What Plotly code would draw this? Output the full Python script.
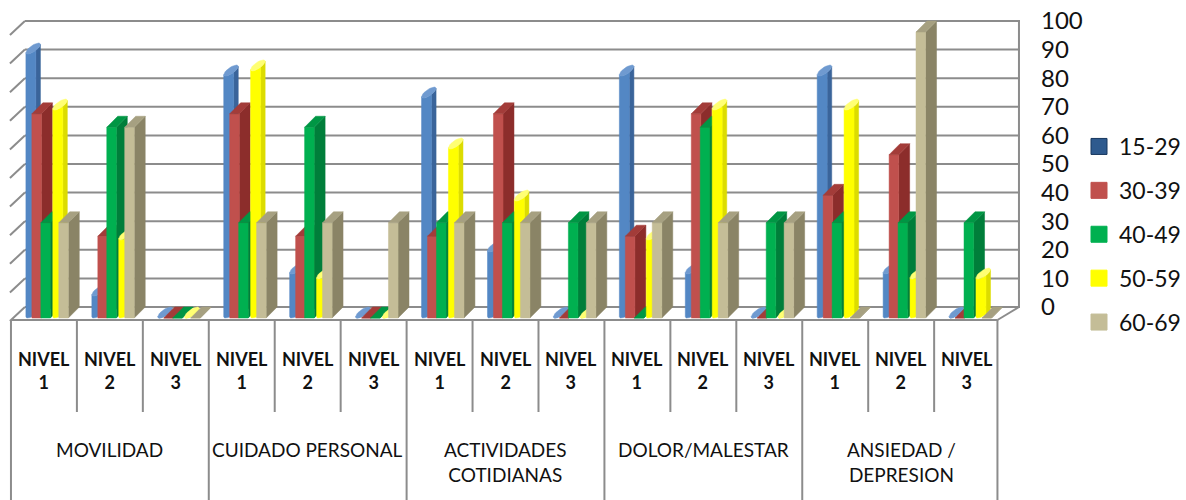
import math
import plotly.graph_objects as go

# ---- data -------------------------------------------------------------
dimensions = ["MOVILIDAD", "CUIDADO PERSONAL", "ACTIVIDADES<br>COTIDIANAS",
              "DOLOR/MALESTAR", "ANSIEDAD /<br>DEPRESION"]
levels = ["NIVEL<br>1", "NIVEL<br>2", "NIVEL<br>3"]
age_groups = ["15-29", "30-39", "40-49", "50-59", "60-69"]

# percentage of each age group per level, dimension by dimension (levels 1-3)
pct_15_29 = [92.3, 7.7, 0, 84.6, 15.4, 0, 76.9, 23.1, 0, 84.6, 15.4, 0, 84.6, 15.4, 0]
pct_30_39 = [71.4, 28.6, 0, 71.4, 28.6, 0, 28.6, 71.4, 0, 28.6, 71.4, 0, 42.9, 57.1, 0]
pct_40_49 = [33.3, 66.7, 0, 33.3, 66.7, 0, 33.3, 33.3, 33.3, 0, 66.7, 33.3, 33.3, 33.3, 33.3]
pct_50_59 = [72.7, 27.3, 0, 86.4, 13.6, 0, 59.1, 40.9, 0, 27.3, 72.7, 0, 72.7, 13.6, 13.6]
pct_60_69 = [33.3, 66.7, 0, 33.3, 33.3, 33.3, 33.3, 33.3, 33.3, 33.3, 33.3, 33.3, 0, 100, 0]

y_ticks = [0, 10, 20, 30, 40, 50, 60, 70, 80, 90, 100]

series_values = [pct_15_29, pct_30_39, pct_40_49, pct_50_59, pct_60_69]

# ---- styling ----------------------------------------------------------
# (front, side, top) shades for each age group
shades = [
    ("#5387C4", "#3A649A", "#6F9AD0"),
    ("#C0504D", "#8C2D2B", "#A33C39"),
    ("#00B050", "#007E3A", "#009644"),
    ("#FFFF00", "#DCDC00", "#FFFF73"),
    ("#C4BD97", "#8A8466", "#A6A081"),
]
cylinder = [True, False, False, True, False]
legend_marker = ["#2E5A8E", "#C0504D", "#00B050", "#FFFF00", "#C4BD97"]
legend_edge = ["#17375E", "#C0504D", "#00B050", "#FFFF00", "#C4BD97"]
GRID = "#8C8C8C"
FONT = "Lato"

W, H = 1186, 500
PLOT_W = 1024                      # plot area width in px (left margin 0)
CAT_PX, VAL_PX = 66.2, 2.86        # px per category / per percentage point
PX_X, PX_Y = 1 / CAT_PX, 1 / VAL_PX
X0_PX, Y0_PX = 11, 318             # px position of category 0 / value 0

x_range = [-X0_PX * PX_X, (PLOT_W - X0_PX) * PX_X]
y_range = [-(H - Y0_PX) * PX_Y, Y0_PX * PX_Y]

BAR_OFF, BAR_PITCH, BAR_W = 12 * PX_X, 9 * PX_X, 9.6 * PX_X
DX, DY = 11 * PX_X, 11 * PX_Y      # bar depth projection
WALL_X, WALL_Y = 14 * PX_X, 11 * PX_Y

n_cat = len(dimensions) * len(levels)
cat_idx = list(range(n_cat))

fig = go.Figure()


def add_poly(xs, ys, pts):
    for px_, py_ in pts:
        xs.append(px_)
        ys.append(py_)
    xs.append(pts[0][0]); ys.append(pts[0][1])
    xs.append(None); ys.append(None)


def ellipse_pt(cx, cy, t):
    return (cx + math.cos(t) * BAR_W / 2 + math.sin(t) * DX / 2,
            cy + math.sin(t) * DY / 2)


def arc(cx, cy, t0, t1, n=14):
    return [ellipse_pt(cx, cy, t0 + (t1 - t0) * k / n) for k in range(n + 1)]


# ---- pseudo 3D columns / cylinders ------------------------------------
t_left = math.atan2(-DX / 2, -BAR_W / 2)
t_right = t_left + math.pi
t_mid = t_left + 0.62 * math.pi

for s, vals in enumerate(series_values):
    faces = {"side": ([], []), "front": ([], []), "top": ([], [])}
    for i, v in zip(cat_idx, vals):
        x0 = i + BAR_OFF + s * BAR_PITCH
        x1 = x0 + BAR_W
        if cylinder[s]:
            cx = x0 + BAR_W / 2 + DX / 2
            lo_c, hi_c = DY / 2, v + DY / 2
            light = arc(cx, lo_c, t_left, t_mid) + arc(cx, hi_c, t_mid, t_left)
            dark = arc(cx, lo_c, t_mid, t_right) + arc(cx, hi_c, t_right, t_mid)
            add_poly(*faces["front"], light)
            add_poly(*faces["side"], dark)
            add_poly(*faces["top"], arc(cx, hi_c, 0, 2 * math.pi, 28))
        else:
            add_poly(*faces["front"], [(x0, 0), (x1, 0), (x1, v), (x0, v)])
            add_poly(*faces["side"], [(x1, 0), (x1 + DX, DY), (x1 + DX, v + DY), (x1, v)])
            add_poly(*faces["top"], [(x0, v), (x1, v), (x1 + DX, v + DY), (x0 + DX, v + DY)])
    for name, col in zip(["side", "front", "top"], [shades[s][1], shades[s][0], shades[s][2]]):
        fx, fy = faces[name]
        fig.add_trace(go.Scatter(x=fx, y=fy, mode="lines", fill="toself",
                                 fillcolor=col, line=dict(color=col, width=0.5),
                                 showlegend=False, hoverinfo="skip"))

# legend entries
for s, name in enumerate(age_groups):
    fig.add_trace(go.Scatter(x=[None], y=[None], mode="markers", name=name,
                             legendgroup=name,
                             marker=dict(symbol="square", size=16, color=legend_marker[s],
                                         line=dict(color=legend_edge[s], width=1))))

# ---- walls, floor and category table ----------------------------------
shapes = []
line = dict(color=GRID, width=2)
wall_right = n_cat + WALL_X + 0.075
for t in y_ticks:
    yb = t + WALL_Y
    shapes.append(dict(type="line", xref="x", yref="y", layer="below",
                       x0=WALL_X, x1=wall_right + 10 * PX_X, y0=yb, y1=yb, line=line))
    shapes.append(dict(type="line", xref="x", yref="y", layer="below",
                       x0=-1 * PX_X, x1=WALL_X, y0=yb - 14 * PX_Y, y1=yb, line=line))
shapes.append(dict(type="line", xref="x", yref="y", layer="below",
                   x0=wall_right, x1=wall_right, y0=WALL_Y, y1=100 + WALL_Y, line=line))
floor_y = -2 * PX_Y
shapes.append(dict(type="line", xref="x", yref="y", layer="below",
                   x0=n_cat - 0.04, x1=wall_right, y0=floor_y, y1=WALL_Y, line=line))
shapes.append(dict(type="line", xref="x", yref="y",
                   x0=0, x1=n_cat - 0.04, y0=floor_y, y1=floor_y, line=line))
level_bottom = -(412 - Y0_PX) * PX_Y
for i in range(n_cat + 1):
    xb = i if i < n_cat else n_cat - 0.04
    yb = y_range[0] if i % len(levels) == 0 else level_bottom
    shapes.append(dict(type="line", xref="x", yref="y",
                       x0=xb, x1=xb, y0=floor_y, y1=yb, line=line))

annotations = []
for i in cat_idx:
    annotations.append(dict(x=i + 0.5, y=-(370 - Y0_PX) * PX_Y, xref="x", yref="y",
                            text="<b>" + levels[i % len(levels)] + "</b>",
                            showarrow=False, xanchor="center", yanchor="middle",
                            font=dict(family=FONT, size=18, color="#111111")))
for d, name in enumerate(dimensions):
    annotations.append(dict(x=d * len(levels) + 1.5, y=-(436 - Y0_PX) * PX_Y,
                            xref="x", yref="y", text=name, showarrow=False,
                            xanchor="center", yanchor="top",
                            font=dict(family=FONT, size=19, color="#111111")))

fig.update_layout(
    width=W, height=H,
    margin=dict(l=0, r=W - PLOT_W, t=0, b=0),
    paper_bgcolor="white", plot_bgcolor="white",
    xaxis=dict(range=x_range, visible=False, fixedrange=True),
    yaxis=dict(range=y_range, visible=False, fixedrange=True),
    yaxis2=dict(range=[y_range[0] - WALL_Y, y_range[1] - WALL_Y], overlaying="y",
                side="right", tickmode="array", tickvals=y_ticks,
                ticktext=[str(t) for t in y_ticks], showgrid=False, zeroline=False,
                showline=False, ticks="", ticklabelstandoff=20,
                tickfont=dict(family=FONT, size=24, color="#111111"), fixedrange=True),
    shapes=shapes,
    annotations=annotations,
    showlegend=True,
    legend=dict(x=1.058, y=1 - 125 / H, xanchor="left", yanchor="top",
                traceorder="grouped", tracegroupgap=11,
                font=dict(family=FONT, size=23, color="#111111"),
                bgcolor="rgba(0,0,0,0)"),
)
# an invisible trace on the right axis so its labels are drawn
fig.add_trace(go.Scatter(x=[None], y=[None], yaxis="y2", showlegend=False, hoverinfo="skip"))

fig.write_html("out.html")
